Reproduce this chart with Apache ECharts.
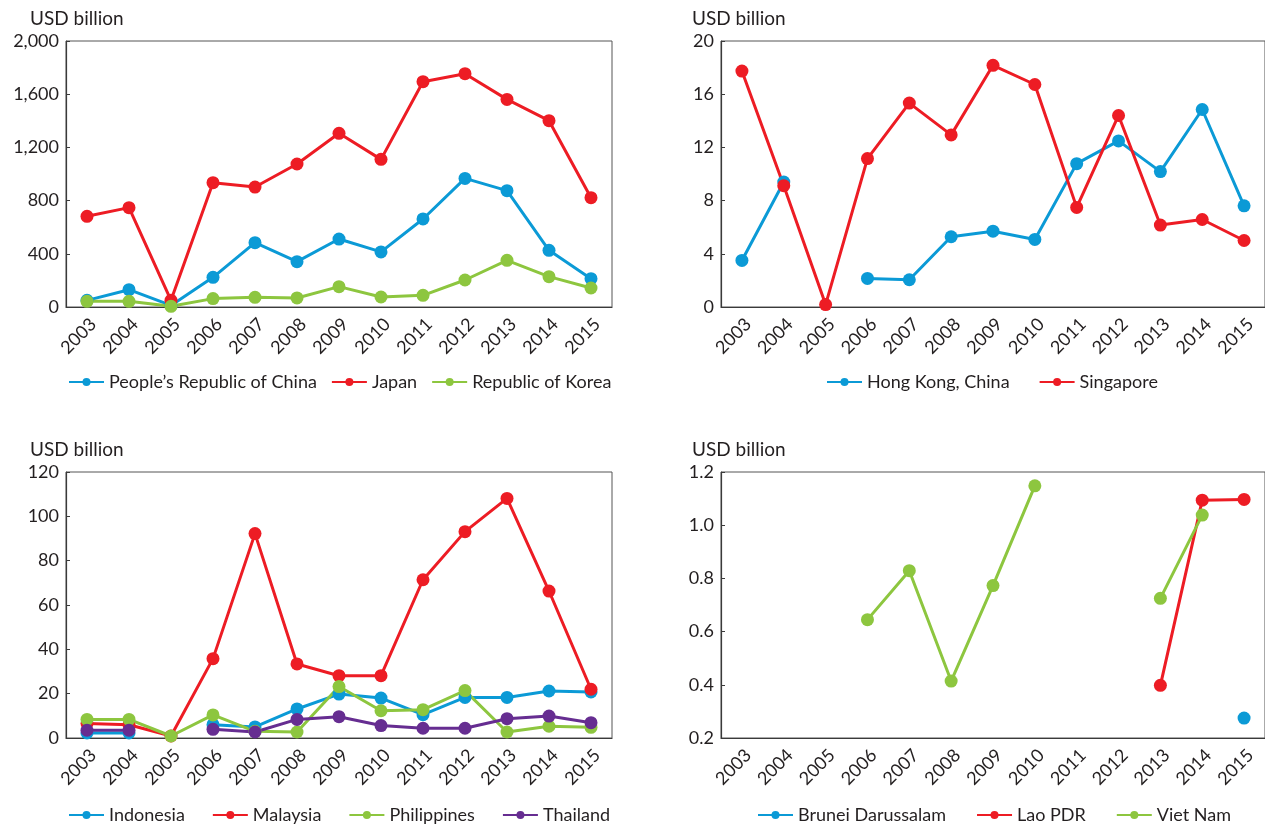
<!DOCTYPE html>
<html lang="en">
<head>
    <meta charset="UTF-8">
    <script type="text/javascript" src="https://cdn.jsdelivr.net/npm/echarts@6/dist/echarts.min.js"></script>
    <title>USD billion</title>
    <style type="text/css">
        html, body { margin: 0; padding: 0; background: #fff; }
        #chart { width: 1265px; height: 825px; }
    </style>
</head>
<body>
<div id="chart"></div>
<script type="text/javascript">
    const years = ['2003', '2004', '2005', '2006', '2007', '2008', '2009', '2010', '2011', '2012', '2013', '2014', '2015'];

    // panel 1
    const china = [50, 130, 12, 223, 484, 341, 511, 414, 662, 967, 875, 426, 213];
    const japan = [682, 747, 50, 935, 902, 1075, 1306, 1110, 1694, 1754, 1561, 1401, 822];
    const korea = [43, 43, 5, 63, 73, 68, 153, 75, 88, 203, 351, 228, 143];

    // panel 2
    const hongKong = [3.5, 9.4, null, 2.15, 2.05, 5.28, 5.7, 5.08, 10.78, 12.49, 10.18, 14.85, 7.61];
    const singapore = [17.74, 9.12, 0.18, 11.16, 15.33, 12.94, 18.17, 16.73, 7.49, 14.4, 6.16, 6.58, 5.0];

    // panel 3
    const indonesia = [2.3, 2.3, null, 6.0, 5.0, 13.1, 19.8, 18.0, 10.5, 18.3, 18.3, 21.2, 20.8];
    const malaysia = [6.5, 6.0, 0.9, 35.8, 92.2, 33.4, 28.1, 28.1, 71.4, 93.1, 108.1, 66.3, 22.0];
    const philippines = [8.4, 8.4, 0.9, 10.4, 3.0, 2.7, 23.2, 12.3, 12.8, 21.4, 2.7, 5.3, 4.8];
    const thailand = [3.5, 3.5, null, 3.9, 2.7, 8.4, 9.6, 5.6, 4.4, 4.4, 8.7, 9.9, 6.9];

    // panel 4
    const brunei = [null, null, null, null, null, null, null, null, null, null, null, null, 0.275];
    const lao = [null, null, null, null, null, null, null, null, null, null, 0.398, 1.094, 1.097];
    const vietNam = [null, null, null, 0.645, 0.829, 0.414, 0.773, 1.148, null, null, 0.725, 1.038, null];

    const BLUE = '#0b9ad6';
    const RED = '#ed1c24';
    const GREEN = '#8dc63f';
    const PURPLE = '#662d91';
    const TXT = '#231f20';
    const FONT = 'Lato';

    let chart = echarts.init(document.getElementById('chart'));

    const grids = [
        {left: 66, top: 41, width: 546, height: 266},
        {left: 721, top: 41, width: 545, height: 266},
        {left: 66, top: 472, width: 546, height: 266},
        {left: 721, top: 472, width: 545, height: 266}
    ];

    function make_x(i) {
        return {
            type: 'category',
            gridIndex: i,
            data: years,
            boundaryGap: true,
            axisLine: {lineStyle: {color: '#3a3a3a', width: 1.2}},
            axisTick: {inside: true, length: 4, lineStyle: {color: '#3a3a3a'}},
            axisLabel: {rotate: 45, fontSize: 18, color: TXT, fontFamily: FONT, margin: 8, verticalAlign: 'top'},
            splitLine: {show: false}
        };
    }

    function make_y(i, min, max, interval, fmt) {
        return {
            type: 'value',
            gridIndex: i,
            min: min,
            max: max,
            interval: interval,
            axisLine: {show: true, lineStyle: {color: '#3a3a3a', width: 1.2}},
            axisTick: {show: true, length: 4, inside: true, lineStyle: {color: '#3a3a3a'}},
            axisLabel: {fontSize: 18, color: TXT, fontFamily: FONT, margin: 7, formatter: fmt},
            splitLine: {show: false}
        };
    }

    function make_line(name, data, color, i) {
        return {
            name: name,
            type: 'line',
            xAxisIndex: i,
            yAxisIndex: i,
            data: data,
            symbol: 'circle',
            symbolSize: 13,
            showSymbol: true,
            connectNulls: false,
            lineStyle: {width: 3, color: color},
            itemStyle: {color: color},
            emphasis: {disabled: true}
        };
    }

    function make_legend(names, left, top, gap) {
        return {
            data: names,
            left: left,
            top: top,
            padding: 0,
            itemGap: gap,
            itemWidth: 35,
            itemHeight: 10,
            textStyle: {fontSize: 18, color: TXT, fontFamily: FONT},
            selectedMode: false
        };
    }

    function make_title(left, top) {
        return {
            text: 'USD billion',
            left: left,
            top: top,
            padding: 0,
            textStyle: {fontSize: 19, fontWeight: 'normal', color: TXT, fontFamily: FONT}
        };
    }

    let option = {
        animation: false,
        title: [make_title(30, 9), make_title(692, 9), make_title(30, 440), make_title(692, 440)],
        grid: grids.map(g => Object.assign({show: true, borderColor: '#555', borderWidth: 1, backgroundColor: 'transparent'}, g)),
        xAxis: [make_x(0), make_x(1), make_x(2), make_x(3)],
        yAxis: [
            make_y(0, 0, 2000, 400, v => v.toLocaleString('en-US')),
            make_y(1, 0, 20, 4),
            make_y(2, 0, 120, 20),
            make_y(3, 0.2, 1.2, 0.2, v => v.toFixed(1))
        ],
        legend: [
            make_legend(["People\u2019s Republic of China", 'Japan', 'Republic of Korea'], 68, 373, 14),
            make_legend(['Hong Kong, China', 'Singapore'], 826, 373, 29),
            make_legend(['Indonesia', 'Malaysia', 'Philippines', 'Thailand'], 68, 806, 27),
            make_legend(['Brunei Darussalam', 'Lao PDR', 'Viet Nam'], 757, 806, 30)
        ],
        series: [
            make_line("People\u2019s Republic of China", china, BLUE, 0),
            make_line('Japan', japan, RED, 0),
            make_line('Republic of Korea', korea, GREEN, 0),
            make_line('Hong Kong, China', hongKong, BLUE, 1),
            make_line('Singapore', singapore, RED, 1),
            make_line('Indonesia', indonesia, BLUE, 2),
            make_line('Malaysia', malaysia, RED, 2),
            make_line('Philippines', philippines, GREEN, 2),
            make_line('Thailand', thailand, PURPLE, 2),
            make_line('Brunei Darussalam', brunei, BLUE, 3),
            make_line('Lao PDR', lao, RED, 3),
            make_line('Viet Nam', vietNam, GREEN, 3)
        ]
    };
    chart.setOption(option);
</script>
</body>
</html>
